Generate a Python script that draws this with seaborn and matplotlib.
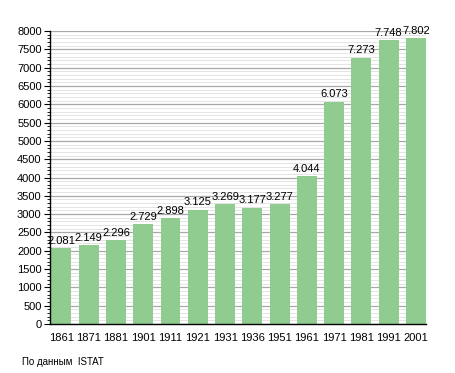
import matplotlib
matplotlib.use("Agg")
import matplotlib.pyplot as plt
import seaborn as sns
import pandas as pd
from matplotlib.ticker import MultipleLocator

years = ["1861", "1871", "1881", "1901", "1911", "1921", "1931", "1936",
         "1951", "1961", "1971", "1981", "1991", "2001"]
population = [2081, 2149, 2296, 2729, 2898, 3125, 3269, 3177,
              3277, 4044, 6073, 7273, 7748, 7802]
source_note = "По данным  ISTAT"

df = pd.DataFrame({"year": years, "pop": population})

sns.set_style("white")
plt.rcParams['font.family'] = ['Liberation Sans', 'DejaVu Sans']

fig = plt.figure(figsize=(4.55, 3.73), dpi=100)
ax = fig.add_axes([50/455, 1-324/373, 376/455, 293/373])

sns.barplot(data=df, x="year", y="pop", order=years, color="#90cb90",
            saturation=1, width=0.73, ax=ax, zorder=3, linewidth=0,
            edgecolor="none")

ax.set_ylim(0, 8000)
ax.set_xlim(-0.42, 13.37)
ax.yaxis.set_major_locator(MultipleLocator(500))
ax.yaxis.set_minor_locator(MultipleLocator(100))
ax.grid(which="major", axis="y", color="#a8a8a8", linewidth=0.9, zorder=1)
ax.grid(which="minor", axis="y", color="#e4e4e4", linewidth=0.7, zorder=0)
ax.set_axisbelow(True)
for s in ["top", "right"]:
    ax.spines[s].set_visible(False)
for s in ["left", "bottom"]:
    ax.spines[s].set_color("black")
    ax.spines[s].set_linewidth(1.0)
    ax.spines[s].set_zorder(4)

ax.tick_params(axis="y", which="major", left=True, length=4, width=0.8,
               labelsize=8, pad=2, colors="black")
ax.tick_params(axis="y", which="minor", left=True, length=2, width=0.6, colors="black")
ax.tick_params(axis="x", bottom=False, labelsize=8, pad=3, colors="black")
ax.set_xlabel("")
ax.set_ylabel("")

for i, v in enumerate(population):
    lbl = f"{v:,}".replace(",", ".")
    ax.text(i, v + 60, lbl, ha="center", va="bottom", fontsize=8, color="black", zorder=5)

fig.text(22/455, 1-362/373, source_note, fontsize=7, ha="left", va="center", color="black")

fig.savefig("out.png", dpi=100)
